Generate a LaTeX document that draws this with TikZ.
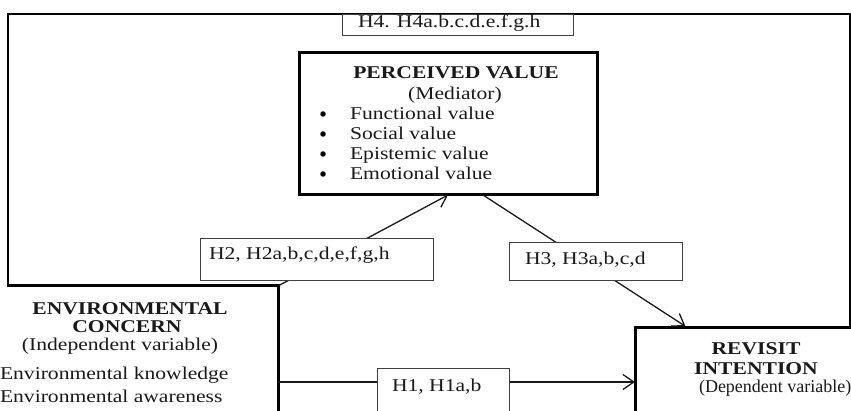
\documentclass[tikz,border=0pt]{standalone}
\usepackage{graphicx}
\usepackage{fontspec}
\setmainfont[FakeStretch=1.2]{Liberation Serif}
\newfontfamily\plainserif{Liberation Serif}
\usetikzlibrary{arrows.meta}
\begin{document}
\begin{tikzpicture}[x=1pt,y=-1pt,
  bigbox/.style={draw=black, line width=3pt, inner sep=0pt, outer sep=0pt, anchor=north west},
  lblbox/.style={draw=black!75, line width=0.9pt, fill=white, inner sep=0pt, outer sep=0pt, anchor=north west},
  txt/.style={inner sep=0pt, outer sep=0pt, anchor=base, text=black!90, font=\fontsize{18}{20}\selectfont},
  txtl/.style={txt, anchor=base west},
  btxt/.style={txt, font=\fontsize{18}{20}\selectfont\bfseries},
  dot/.style={circle, fill=black, inner sep=0pt, minimum size=5.5pt},
  conn/.style={line width=1.3pt, draw=black!90, -{Straight Barb[length=11pt,width=15pt,line width=1.3pt]}},
  frameline/.style={line width=2.4pt, draw=black}]
\useasboundingbox (0,0) rectangle (851,411);
\clip (0,0) rectangle (851,411);
% outer frame
\draw[frameline] (8,287) -- (8,14) -- (850,14) -- (850,329);
% boxes
\node[bigbox, minimum width=298pt, minimum height=142pt] (pv) at (299,53) {};
\begin{scope}
\clip (8,0) rectangle (851,420);
\node[bigbox, anchor=north east, minimum width=320pt, minimum height=200pt] (env) at (278,286) {};
\end{scope}
\node[bigbox, minimum width=300pt, minimum height=200pt] (ri) at (635,328) {};
% connectors
\coordinate (h1y) at (0,382);
\draw[conn] (env.north east) -- (pv.south);
\draw[conn, shorten >=3pt] ([xshift=35pt]pv.south) -- ([xshift=53pt]ri.north west);
\draw[conn] (env.east |- h1y) -- (ri.west |- h1y);
% label boxes
\node[lblbox, minimum width=231pt, minimum height=21pt] (h4) at (342,14) {};
\node[lblbox, minimum width=233pt, minimum height=42pt] (h2) at (200,238) {};
\node[lblbox, minimum width=173pt, minimum height=38pt] (h3) at (509,242) {};
\node[lblbox, minimum width=132pt, minimum height=50pt] (h1) at (377,368) {};
\node[txtl] (h4t) at (358,28) {H4. H4a.b.c.d.e.f.g.h};
\node[txtl] (h2t) at (209,260) {H2, H2a,b,c,d,e,f,g,h};
\node[txtl] (h3t) at (525,265) {H3, H3a,b,c,d};
\node[txtl] (h1t) at (392,391) {H1, H1a,b};
% perceived value text
\node[btxt] (pv1) at (456,79) {PERCEIVED VALUE};
\node[txt] (pv2) at (455,100) {(Mediator)};
\node[txtl] (pv3) at (350,120) {Functional value};
\node[txtl] (pv4) at (350,140) {Social value};
\node[txtl] (pv5) at (350,160) {Epistemic value};
\node[txtl] (pv6) at (350,180) {Emotional value};
\node[dot] (d1) at (323,114) {};
\node[dot] (d2) at (323,134) {};
\node[dot] (d3) at (323,154) {};
\node[dot] (d4) at (323,174) {};
% environmental concern text
\node[btxt] (e1) at (130,315) {ENVIRONMENTAL};
\node[btxt] (e2) at (127,333) {CONCERN};
\node[txt] (e3) at (120,351) {(Independent variable)};
\node[txtl] (e4) at (0,380) {Environmental knowledge};
\node[txtl] (e5) at (0,402) {Environmental awareness};
% revisit intention text
\node[btxt] (r1) at (756,355) {REVISIT};
\node[btxt] (r2) at (756,374) {INTENTION};
\node[txtl, font=\fontsize{18}{20}\selectfont\plainserif] (r3) at (699,392) {(Dependent variable)};
\end{tikzpicture}
\end{document}
